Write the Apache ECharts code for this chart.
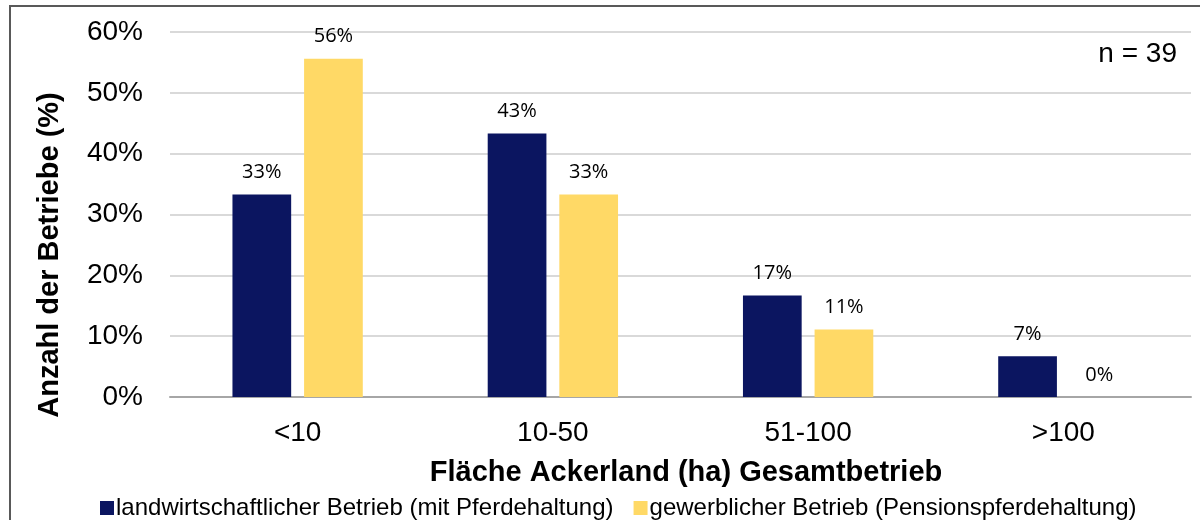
<!DOCTYPE html>
<html>
<head>
<meta charset="utf-8">
<script src="https://cdn.jsdelivr.net/npm/echarts@6/dist/echarts.min.js"></script>
<style>
  html, body { margin: 0; padding: 0; background: #fff; }
  #chart { width: 1200px; height: 520px; }
</style>
</head>
<body>
<div id="chart"></div>
<script>
const categories = ['<10', '10-50', '51-100', '>100']
const landwirtschaftlich = [33.3, 43.3, 16.7, 6.7]
const gewerblich = [55.6, 33.3, 11.1, 0]
const seriesNames = [
  'landwirtschaftlicher Betrieb (mit Pferdehaltung)',
  'gewerblicher Betrieb (Pensionspferdehaltung)'
]

const chart = echarts.init(document.getElementById('chart'))

const labelStyle = {
  show: true,
  position: 'top',
  distance: 12,
  formatter: (p) => Math.round(p.value) + '%',
  color: '#000',
  fontSize: 20,
  fontFamily: 'Open Sans'
}

chart.setOption({
  animation: false,
  textStyle: { fontFamily: 'Liberation Sans' },
  graphic: [
    {
      type: 'rect',
      shape: { x: 10, y: 6, width: 1200, height: 530 },
      style: { fill: 'none', stroke: '#595959', lineWidth: 2 }
    },
    {
      type: 'text',
      style: {
        x: 1177, y: 54, text: 'n = 39', fontSize: 28, fill: '#000',
        fontFamily: 'Liberation Sans', align: 'right', verticalAlign: 'middle'
      }
    },
    {
      type: 'text',
      style: {
        x: 686, y: 473,
        text: 'Fläche Ackerland (ha) Gesamtbetrieb',
        fontSize: 29, fontWeight: 'bold', fill: '#000',
        fontFamily: 'Liberation Sans', align: 'center', verticalAlign: 'middle'
      }
    },
    {
      // y axis title, placed by hand because it is not centred on the plot
      type: 'text',
      x: 50,
      y: 255,
      rotation: Math.PI / 2,
      style: {
        x: 0, y: 0,
        text: 'Anzahl der Betriebe (%)',
        fontSize: 29, fontWeight: 'bold', fill: '#000',
        fontFamily: 'Liberation Sans', align: 'center', verticalAlign: 'middle'
      }
    }
  ],
  legend: {
    top: 491,
    left: 95,
    itemWidth: 14,
    itemHeight: 14,
    itemGap: 20,
    icon: 'rect',
    textStyle: { fontSize: 24, color: '#000', fontFamily: 'Liberation Sans', padding: [0, 0, 0, -3] },
    data: seriesNames
  },
  grid: { left: 170, right: 9, top: 32, bottom: 123 },
  xAxis: {
    type: 'category',
    data: categories,
    axisLine: { lineStyle: { color: '#a6a6a6', width: 2 } },
    axisTick: { show: false },
    axisLabel: { fontSize: 28, color: '#000', margin: 22 }
  },
  yAxis: {
    type: 'value',
    min: 0,
    max: 60,
    interval: 10,
    axisLabel: { fontSize: 28, color: '#000', margin: 27, formatter: '{value}%' },
    splitLine: { lineStyle: { color: '#d9d9d9', width: 2 } },
    axisLine: { show: false },
    axisTick: { show: false }
  },
  series: [
    {
      name: seriesNames[0],
      type: 'bar',
      data: landwirtschaftlich,
      barWidth: '23%',
      barGap: '22%',
      itemStyle: { color: '#0b1560' },
      label: labelStyle
    },
    {
      name: seriesNames[1],
      type: 'bar',
      data: gewerblich,
      barWidth: '23%',
      itemStyle: { color: '#ffd966' },
      label: labelStyle
    }
  ]
})

window.addEventListener('resize', () => chart.resize())
</script>
</body>
</html>
